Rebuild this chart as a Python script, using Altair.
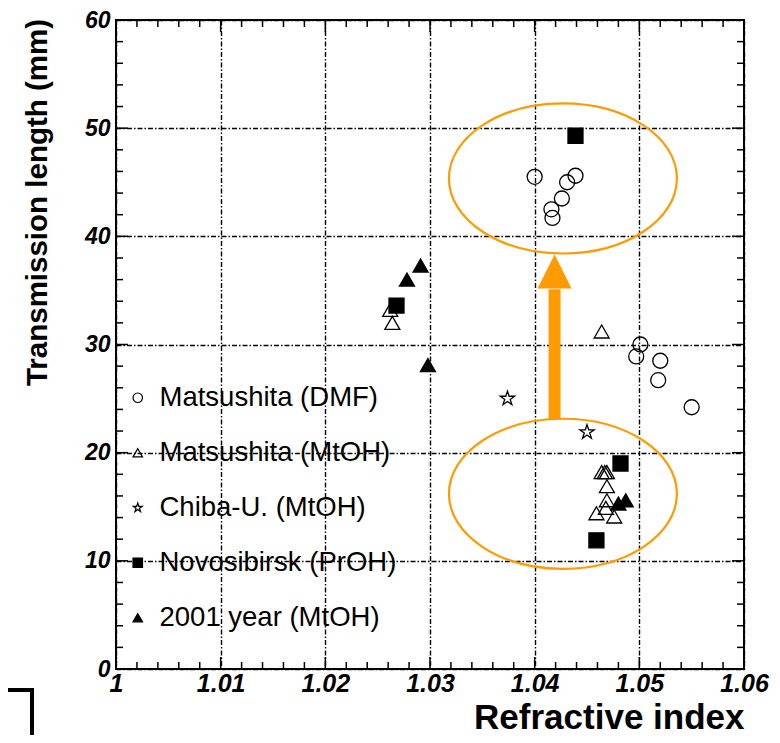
import altair as alt
import pandas as pd

# ---------------- data ----------------
series_names = ["Matsushita (DMF)", "Matsushita (MtOH)", "Chiba-U. (MtOH)",
                "Novosibirsk (PrOH)", "2001 year (MtOH)"]

dmf_n = [1.0400, 1.0416, 1.0417, 1.0426, 1.0431, 1.0439, 1.0501, 1.0497, 1.0520, 1.0518, 1.0550]
dmf_l = [45.5, 42.5, 41.7, 43.5, 45.0, 45.6, 30.0, 28.9, 28.5, 26.7, 24.2]
mtoh_n = [1.0262, 1.0264, 1.0464, 1.0464, 1.0467, 1.0469, 1.0469, 1.0469, 1.0468, 1.0459, 1.0476]
mtoh_l = [33.2, 32.0, 31.2, 18.2, 18.2, 18.2, 16.9, 15.6, 14.9, 14.4, 14.1]
chiba_n = [1.0374, 1.0450]
chiba_l = [25.0, 21.9]
novo_n = [1.0268, 1.0439, 1.0482, 1.0459]
novo_l = [33.6, 49.3, 19.0, 11.9]
y2001_n = [1.0278, 1.0291, 1.0298, 1.0480, 1.0487]
y2001_l = [36.0, 37.3, 28.1, 15.3, 15.6]

x_major = [1.0, 1.01, 1.02, 1.03, 1.04, 1.05, 1.06]
x_minor = [1.002, 1.004, 1.006, 1.008, 1.012, 1.014, 1.016, 1.018,
           1.022, 1.024, 1.026, 1.028, 1.032, 1.034, 1.036, 1.038,
           1.042, 1.044, 1.046, 1.048, 1.052, 1.054, 1.056, 1.058]
y_major = [0, 10, 20, 30, 40, 50, 60]
y_minor = [2, 4, 6, 8, 12, 14, 16, 18, 22, 24, 26, 28, 32, 34, 36, 38,
           42, 44, 46, 48, 52, 54, 56, 58]

# annotations (orange ellipses and arrow), in data units
ellipse_n = [1.0427, 1.0427]
ellipse_l = [45.35, 16.2]
arrow_n = [1.0419]
arrow_from = [23.1]
arrow_to = [35.1]
arrow_head = [36.75]

rows = []
for name, xs_, ys_ in zip(series_names,
                          [dmf_n, mtoh_n, chiba_n, novo_n, y2001_n],
                          [dmf_l, mtoh_l, chiba_l, novo_l, y2001_l]):
    for a, b in zip(xs_, ys_):
        rows.append({"n": a, "l": b, "series": name})
pts = pd.DataFrame(rows)

W, H = 628, 649
ORANGE = "#ff9a00"
STAR = ("M0,-1L0.225,-0.309L0.951,-0.309L0.363,0.118L0.588,0.809L0,0.382"
        "L-0.588,0.809L-0.363,0.118L-0.951,-0.309L-0.225,-0.309Z")
ELLIPSE = ("M-1,0C-1,-0.3634,-0.5523,-0.658,0,-0.658C0.5523,-0.658,1,-0.3634,1,0"
           "C1,0.3634,0.5523,0.658,0,0.658C-0.5523,0.658,-1,0.3634,-1,0Z")
TRI = "M0,-1L1,1L-1,1Z"

XT = "Refractive index"
YT = "Transmission length (mm)"
xs = alt.Scale(domain=[1.0, 1.06], nice=False, zero=False)
ys = alt.Scale(domain=[0, 60], nice=False, zero=True)

x_axis = alt.Axis(values=x_major, grid=True, ticks=False, domain=False,
                  labelExpr="datum.value == 1 ? '1' : format(datum.value, '.2f')",
                  labelFlush=False, labelOverlap=False, labelPadding=2,
                  labelFontSize=25, titleFontSize=35, titleFontWeight="bold",
                  titleX=W, titleY=59, titleAlign="right", titleBaseline="alphabetic",
                  titleAnchor="end")
y_axis = alt.Axis(values=y_major, grid=True, ticks=False, domain=False,
                  labelFlush=False, labelOverlap=False, labelPadding=6,
                  labelFontSize=23, titleFontSize=29.5, titleFontWeight="bold",
                  titleX=-79, titleY=182, titleAngle=270, titleAlign="center",
                  titleBaseline="middle")


def X(field):
    return alt.X(field, scale=xs, axis=x_axis, title=XT)


def Y(field):
    return alt.Y(field, scale=ys, axis=y_axis, title=YT)


leg = alt.Legend(orient="none", legendX=8, legendY=364, title=None,
                 labelFontSize=27.5, labelFont="Liberation Sans", labelColor="black",
                 labelLimit=400, symbolSize=90, symbolStrokeWidth=1.2,
                 rowPadding=26, labelOffset=8, padding=0)

points = alt.Chart(pts).mark_point(strokeWidth=1.3, opacity=1, size=225).encode(
    x=X("n:Q"),
    y=Y("l:Q"),
    shape=alt.Shape("series:N", scale=alt.Scale(domain=series_names,
                    range=["circle", "triangle-up", STAR, "square", "triangle-up"]), legend=leg),
    fill=alt.Fill("series:N", scale=alt.Scale(domain=series_names,
                  range=["transparent", "transparent", "transparent", "black", "black"]), legend=leg),
    stroke=alt.Stroke("series:N", scale=alt.Scale(domain=series_names,
                      range=["black", "black", "black", "black", "black"]), legend=leg),
)

ell = alt.Chart(pd.DataFrame({"n": ellipse_n, "l": ellipse_l})).mark_point(
    shape=ELLIPSE, size=228 * 228, filled=False, stroke=ORANGE, strokeWidth=2.2, opacity=1
).encode(x=X("n:Q"), y=Y("l:Q"))

shaft = alt.Chart(pd.DataFrame({"n": arrow_n, "a": arrow_from, "b": arrow_to})).mark_rule(
    color=ORANGE, strokeWidth=12
).encode(x=X("n:Q"), y=Y("a:Q"), y2="b:Q")

head = alt.Chart(pd.DataFrame({"n": arrow_n, "l": arrow_head})).mark_point(
    shape=TRI, size=34 * 34, filled=True, color=ORANGE, opacity=1
).encode(x=X("n:Q"), y=Y("l:Q"))


def xticks(vals, length):
    d = pd.DataFrame({"n": vals})
    bot = alt.Chart(d).mark_rule(color="black", strokeWidth=1.5).encode(
        x=X("n:Q"), y=alt.value(H), y2=alt.value(H - length))
    top = alt.Chart(d).mark_rule(color="black", strokeWidth=1.5).encode(
        x=X("n:Q"), y=alt.value(0), y2=alt.value(length))
    return [bot, top]


def yticks(vals, length):
    d = pd.DataFrame({"l": vals})
    left = alt.Chart(d).mark_rule(color="black", strokeWidth=1.5).encode(
        y=Y("l:Q"), x=alt.value(0), x2=alt.value(length))
    right = alt.Chart(d).mark_rule(color="black", strokeWidth=1.5).encode(
        y=Y("l:Q"), x=alt.value(W), x2=alt.value(W - length))
    return [left, right]


corner = pd.DataFrame({"k": [0]})
corner_h = alt.Chart(corner).mark_rule(color="black", strokeWidth=4).encode(
    x=alt.value(-120), x2=alt.value(-84), y=alt.value(670))
corner_v = alt.Chart(corner).mark_rule(color="black", strokeWidth=4).encode(
    x=alt.value(-84), y=alt.value(668), y2=alt.value(740))

layers = ([points, ell, shaft, head] + xticks(x_major, 12) + xticks(x_minor, 7)
          + yticks(y_major, 12) + yticks(y_minor, 7) + [corner_h, corner_v])

chart = alt.layer(*layers).properties(
    width=W, height=H,
    autosize=alt.AutoSizeParams(type="none"),
    padding={"left": 108, "top": 12, "right": 28, "bottom": 66},
    background="white",
).configure_view(
    stroke="black", strokeWidth=2
).configure_axis(
    gridColor="black", gridDash=[5, 2, 1.5, 2], gridWidth=1.4, gridOpacity=1,
    labelFont="Liberation Sans", labelFontStyle="italic", labelFontWeight="bold",
    labelColor="black", titleFont="Liberation Sans",
    titleColor="black"
)

chart.save("out.html", embed_options={"renderer": "svg", "actions": False})
